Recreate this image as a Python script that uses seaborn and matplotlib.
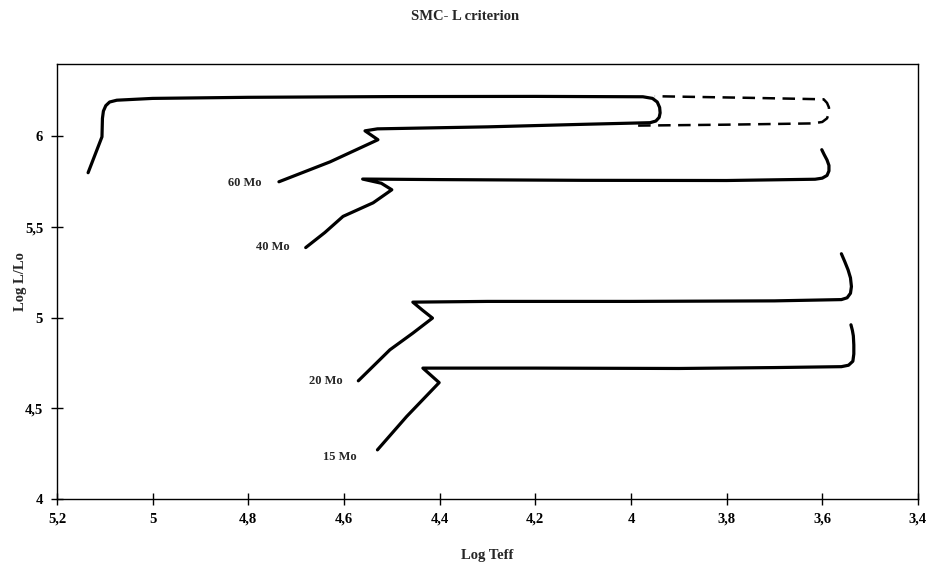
import matplotlib
matplotlib.use("Agg")
import matplotlib.pyplot as plt
import seaborn as sns
import pandas as pd

# ---- data ----
x60 = [4.736, 4.629, 4.529, 4.556, 4.530, 4.300, 4.100, 3.960, 3.948, 3.941, 3.939, 3.940,
       3.945, 3.955, 3.975, 4.200, 4.500, 4.800, 5.000, 5.075, 5.090, 5.098, 5.103, 5.105,
       5.106, 5.135]
y60 = [5.750, 5.860, 5.982, 6.031, 6.042, 6.053, 6.067, 6.076, 6.085, 6.105, 6.130, 6.160,
       6.190, 6.210, 6.219, 6.221, 6.220, 6.216, 6.210, 6.200, 6.190, 6.170, 6.140, 6.100,
       5.998, 5.800]

x60d = [3.985, 3.800, 3.620, 3.600, 3.590, 3.586, 3.586, 3.590, 3.597, 3.750, 3.950]
y60d = [6.060, 6.065, 6.072, 6.080, 6.100, 6.130, 6.160, 6.185, 6.205, 6.213, 6.222]

x40 = [4.680, 4.640, 4.602, 4.539, 4.500, 4.522, 4.561, 4.400, 4.100, 3.800, 3.615, 3.600,
       3.590, 3.586, 3.586, 3.590, 3.596, 3.601]
y40 = [5.387, 5.470, 5.559, 5.634, 5.706, 5.742, 5.765, 5.762, 5.758, 5.757, 5.764, 5.770,
       5.785, 5.810, 5.840, 5.870, 5.900, 5.927]

x20 = [4.570, 4.504, 4.456, 4.415, 4.436, 4.456, 4.300, 4.000, 3.700, 3.560, 3.548, 3.541,
       3.539, 3.541, 3.546, 3.553, 3.560]
y20 = [4.652, 4.823, 4.915, 4.998, 5.042, 5.086, 5.090, 5.090, 5.093, 5.100, 5.110, 5.135,
       5.172, 5.220, 5.264, 5.310, 5.353]

x15 = [4.530, 4.469, 4.401, 4.418, 4.435, 4.200, 3.900, 3.700, 3.560, 3.545, 3.536, 3.534,
       3.534, 3.535, 3.537, 3.540]
y15 = [4.271, 4.455, 4.642, 4.682, 4.722, 4.722, 4.720, 4.725, 4.730, 4.738, 4.760, 4.800,
       4.850, 4.900, 4.930, 4.961]

track_labels = ["60 Mo", "40 Mo", "20 Mo", "15 Mo"]
label_x = [4.807, 4.748, 4.638, 4.608]
label_y = [5.744, 5.391, 4.652, 4.232]

xticks = [5.2, 5.0, 4.8, 4.6, 4.4, 4.2, 4.0, 3.8, 3.6, 3.4]
xtick_labels = ["5,2", "5", "4,8", "4,6", "4,4", "4,2", "4", "3,8", "3,6", "3,4"]
yticks = [4.0, 4.5, 5.0, 5.5, 6.0]
ytick_labels = ["4", "4,5", "5", "5,5", "6"]

# ---- style ----
sns.set_style("ticks")
plt.rcParams["font.family"] = ["Liberation Serif", "DejaVu Serif"]
plt.rcParams["font.weight"] = "bold"

fig = plt.figure(figsize=(9.3, 5.66), dpi=100)
ax = fig.add_axes([0.0613, 0.1184, 0.9257, 0.7686])

solid_tracks = [(x60, y60), (x40, y40), (x20, y20), (x15, y15)]
for xs, ys in solid_tracks:
    df = pd.DataFrame({"x": xs, "y": ys})
    sns.lineplot(data=df, x="x", y="y", sort=False, estimator=None, color="black",
                 lw=2.3, ax=ax, solid_joinstyle="round", solid_capstyle="round")

dfd = pd.DataFrame({"x": x60d, "y": y60d})
sns.lineplot(data=dfd, x="x", y="y", sort=False, estimator=None, color="black",
             lw=1.8, ax=ax, linestyle=(0, (5, 3)))

for t, lx, ly in zip(track_labels, label_x, label_y):
    ax.text(lx, ly, t, ha="center", va="center", fontsize=9, fontweight="bold")

ax.set_xlim(5.2, 3.4)
ax.set_ylim(4.0, 6.4)
ax.set_xticks(xticks)
ax.set_xticklabels(xtick_labels)
ax.set_yticks(yticks)
ax.set_yticklabels(ytick_labels)
ax.tick_params(axis="both", direction="inout", length=8, width=1, colors="black",
               labelsize=10.5, pad=6)
for s in ax.spines.values():
    s.set_visible(True)
    s.set_color("black")
    s.set_linewidth(1)

ax.set_xlabel("Log Teff", fontsize=10.5, fontweight="bold", labelpad=17)
ax.set_ylabel("Log L/Lo", fontsize=10.5, fontweight="bold")
ax.yaxis.set_label_coords(-0.035, 0.5)
fig.suptitle("SMC- L criterion", fontsize=10.5, fontweight="bold", y=0.983)

fig.savefig("out.png", dpi=100)
